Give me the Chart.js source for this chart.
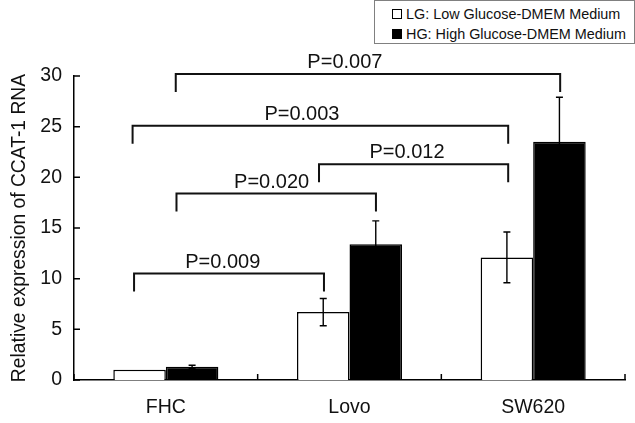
<!DOCTYPE html>
<html><head><meta charset="utf-8">
<script src="https://cdn.jsdelivr.net/npm/chart.js@4/dist/chart.umd.min.js"></script>
<style>
html,body{margin:0;padding:0;background:#fff;}
#wrap{position:relative;width:635px;height:423px;overflow:hidden;}
#legend{position:absolute;left:374px;top:0;width:259px;height:42px;border:1px solid #808080;font:14.4px "Liberation Sans",Arial,sans-serif;color:#111;background:#fff;}
.item{position:absolute;left:17px;height:16px;display:flex;align-items:center;white-space:nowrap;}
.sw{width:8px;height:8px;border:1.5px solid #000;margin-right:4px;}
</style></head><body>
<div id="wrap"><canvas id="c" width="635" height="423"></canvas><div id="legend"></div></div>
<script>
const categories = ['FHC', 'Lovo', 'SW620'];
const seriesNames = ['LG: Low Glucose-DMEM Medium', 'HG: High Glucose-DMEM Medium'];
const lgValues = [1.0, 6.7, 12.1];
const lgErrors = [0, 1.35, 2.5];
const hgValues = [1.3, 13.4, 23.5];
const hgErrors = [0.15, 2.3, 4.4];
const yTicks = [0, 5, 10, 15, 20, 25, 30];
const yTitle = 'Relative expression of CCAT-1 RNA';
const pLabels = ['P=0.009', 'P=0.020', 'P=0.012', 'P=0.003', 'P=0.007'];
const pFrom = [-0.173, 0.058, 0.834, -0.181, 0.054];
const pTo = [0.861, 1.144, 1.864, 1.864, 2.147];
const pLevel = [10.5, 18.4, 21.3, 25.1, 30.2];
const pLabelAt = [0.31, 0.576, 1.313, 0.741, 0.975];

const FONT = '"Liberation Sans", Arial, Helvetica, sans-serif';
const INK = '#111';

// legend (HTML)
const legendEl = document.getElementById('legend');
const swatchFill = ['#fff', '#000'];
const itemTops = [5, 25];
seriesNames.forEach((n, i) => {
  const d = document.createElement('div');
  d.className = 'item';
  d.style.top = itemTops[i] + 'px';
  const s = document.createElement('span');
  s.className = 'sw';
  s.style.background = swatchFill[i];
  d.appendChild(s);
  d.appendChild(document.createTextNode(n));
  legendEl.appendChild(d);
});

const errors = [lgErrors, hgErrors];

const extras = {
  id: 'extras',
  afterDatasetsDraw(chart) {
    const ctx = chart.ctx;
    const xs = chart.scales.x, ys = chart.scales.y;
    ctx.save();
    // error bars
    ctx.strokeStyle = '#000';
    ctx.lineWidth = 1.4;
    chart.data.datasets.forEach((ds, d) => {
      const meta = chart.getDatasetMeta(d);
      meta.data.forEach((el, i) => {
        const e = errors[d][i];
        if (!e) return;
        const v = ds.data[i];
        const yt = ys.getPixelForValue(v + e);
        const yb = ys.getPixelForValue(v - e);
        ctx.beginPath();
        ctx.moveTo(el.x, yt); ctx.lineTo(el.x, yb);
        ctx.moveTo(el.x - 3.5, yt); ctx.lineTo(el.x + 3.5, yt);
        ctx.moveTo(el.x - 3.5, yb); ctx.lineTo(el.x + 3.5, yb);
        ctx.stroke();
      });
    });
    // inward tick marks
    ctx.lineWidth = 1.5;
    ctx.beginPath();
    yTicks.forEach(t => {
      const y = ys.getPixelForValue(t);
      ctx.moveTo(xs.left, y); ctx.lineTo(xs.left + 6, y);
    });
    for (let i = 0; i <= categories.length; i++) {
      const x = xs.getPixelForValue(i - 0.5);
      ctx.moveTo(x, ys.bottom); ctx.lineTo(x, ys.bottom - 6);
    }
    ctx.stroke();
    // significance brackets
    ctx.lineWidth = 2;
    ctx.strokeStyle = INK;
    ctx.fillStyle = INK;
    ctx.font = '20px ' + FONT;
    ctx.textAlign = 'center';
    ctx.textBaseline = 'alphabetic';
    pLabels.forEach((lab, k) => {
      const x1 = xs.getPixelForValue(pFrom[k]);
      const x2 = xs.getPixelForValue(pTo[k]);
      const y = ys.getPixelForValue(pLevel[k]);
      ctx.beginPath();
      ctx.moveTo(x1, y + 18); ctx.lineTo(x1, y); ctx.lineTo(x2, y); ctx.lineTo(x2, y + 18);
      ctx.stroke();
      ctx.fillText(lab, xs.getPixelForValue(pLabelAt[k]), y - 6);
    });
    ctx.restore();
  }
};

new Chart(document.getElementById('c'), {
  type: 'bar',
  data: {
    labels: categories,
    datasets: [
      { label: seriesNames[0], data: lgValues, backgroundColor: '#fff', borderColor: '#000', borderWidth: 1.5 },
      { label: seriesNames[1], data: hgValues, backgroundColor: '#000', borderColor: '#000', borderWidth: 1.5 }
    ]
  },
  options: {
    responsive: false,
    animation: false,
    devicePixelRatio: 1,
    layout: { padding: { left: 0, top: 76, right: 10, bottom: 0 } },
    datasets: { bar: { categoryPercentage: 0.572, barPercentage: 1.0 } },
    plugins: { legend: { display: false }, tooltip: { enabled: false } },
    scales: {
      x: {
        grid: { display: false, drawTicks: false },
        border: { display: true, color: '#000', width: 1.5 },
        ticks: { color: INK, font: { family: FONT, size: 19.5 }, padding: 16 },
        afterFit(s) { s.height = 43; }
      },
      y: {
        min: 0, max: 30,
        afterBuildTicks(s) { s.ticks = yTicks.map(v => ({ value: v })); },
        grid: { display: false, drawTicks: false },
        border: { display: true, color: '#000', width: 1.5 },
        ticks: { color: INK, font: { family: FONT, size: 19.5 }, padding: 12 },
        title: { display: true, text: yTitle, color: INK, font: { family: FONT, size: 19.3 }, padding: { top: 8, bottom: 0 } },
        afterFit(s) { s.width = 74; }
      }
    }
  },
  plugins: [extras]
});
</script>
</body></html>
